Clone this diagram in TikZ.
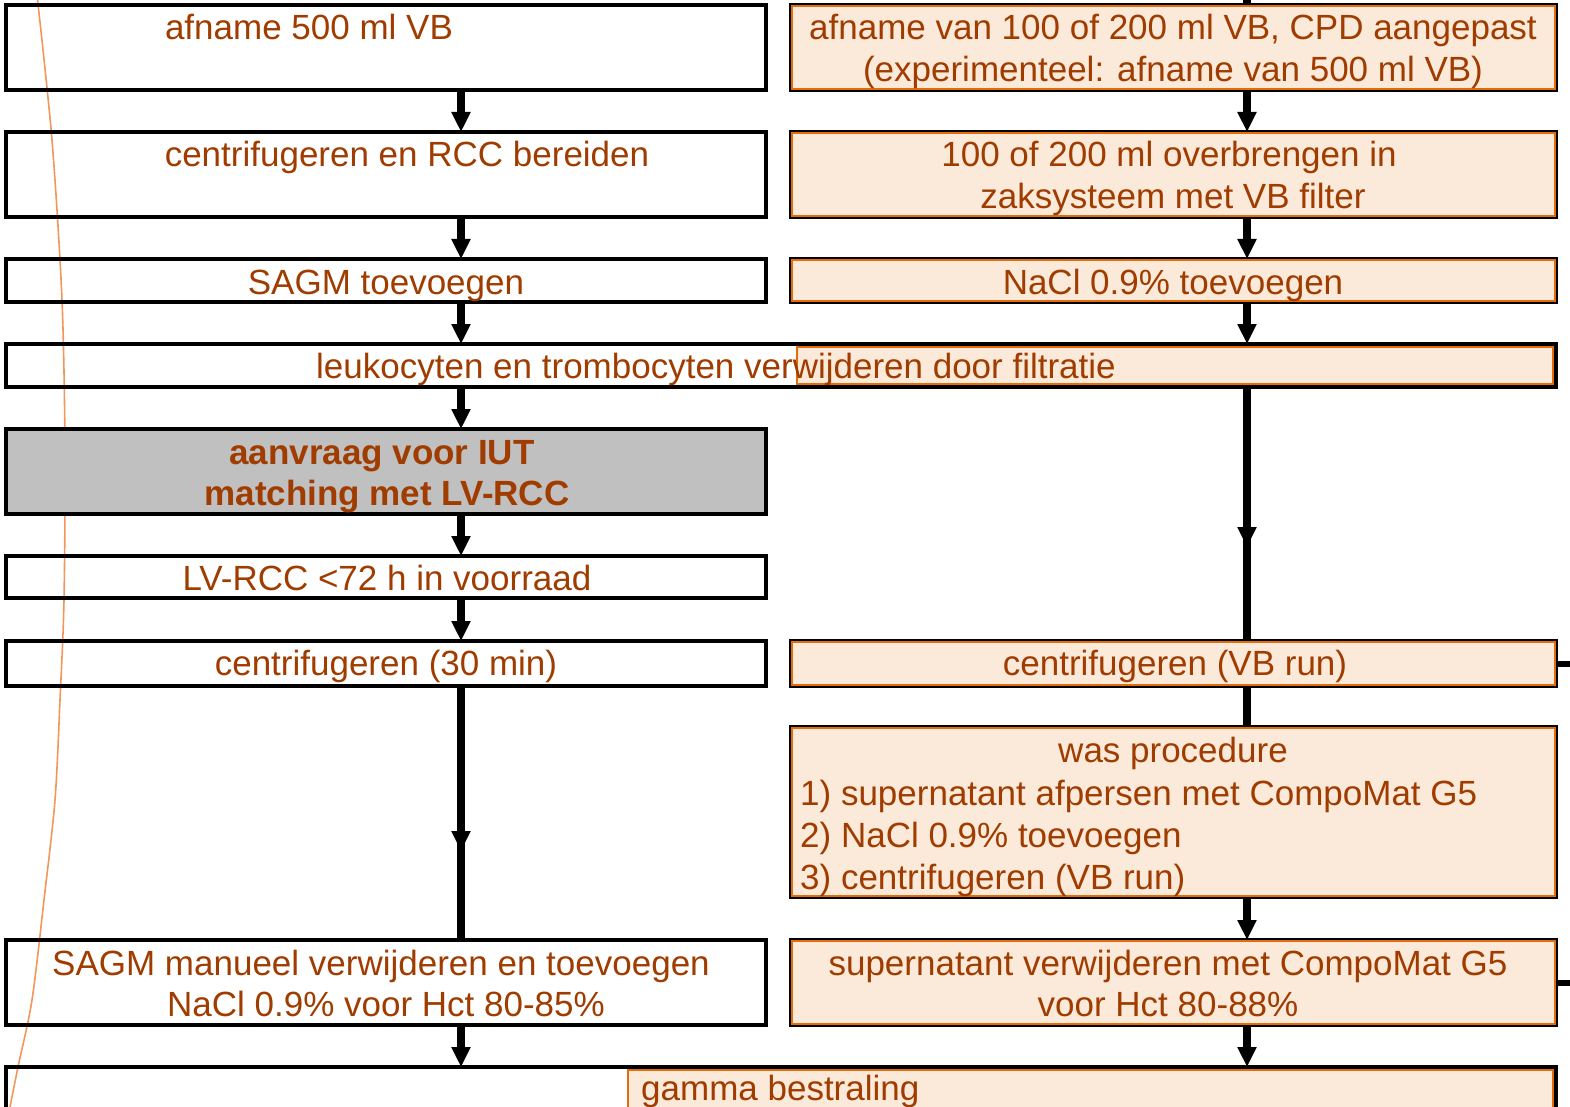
\documentclass[tikz,border=0pt]{standalone}
\usepackage{fontspec}
\setmainfont{Liberation Sans}
\usetikzlibrary{arrows.meta,decorations.markings}
\definecolor{txtc}{RGB}{160,60,0}
\definecolor{peach}{RGB}{251,233,217}
\definecolor{orln}{RGB}{228,108,10}
\definecolor{curvec}{RGB}{243,150,90}
\definecolor{grayf}{RGB}{192,192,192}
\begin{document}
\begin{tikzpicture}[x=1pt,y=-1pt,
 lbox/.style={draw=black, line width=4pt, rectangle, inner sep=0pt, outer sep=0pt},
 rbox/.style={draw=black, line width=4pt, fill=peach, rectangle, inner sep=0pt, outer sep=0pt},
 gbox/.style={lbox, fill=grayf},
 pbox/.style={draw=orln, line width=2pt, fill=peach, rectangle, inner sep=0pt, outer sep=0pt},
 txt/.style={text=txtc, font=\fontsize{35}{42}\selectfont, inner sep=0pt, anchor=base},
 btxt/.style={txt, font=\fontsize{35}{42}\selectfont\bfseries},
 flow/.style={draw=black, line width=8pt, -{Triangle[width=18pt,length=20pt]}},
 flowline/.style={draw=black, line width=8pt},
 midarrow/.style={flowline, decoration={markings, mark=at position #1 with {\arrow{Triangle[width=18pt,length=20pt]}}}, postaction={decorate}},
 stub/.style={draw=black, line width=6pt},
 inset/.style={draw=orln, line width=2pt}
]
\useasboundingbox (0,0) rectangle (1570,1107);
\clip (0,0) rectangle (1570,1107);

% decorative curve
\draw[curvec, line width=1.6pt] plot[smooth] coordinates {(37,-5) (52,140) (62,300) (65,450) (64,600) (60,700) (55,800) (44,900) (32,1000) (18,1067) (9,1112)};

% left column boxes
\node[lbox, minimum width=760pt, minimum height=85pt] (L1) at (386,47.5) {};
\node[lbox, minimum width=760pt, minimum height=85pt] (L2) at (386,174.5) {};
\node[lbox, minimum width=760pt, minimum height=43pt] (L3) at (386,280.5) {};
\node[gbox, minimum width=760pt, minimum height=85pt] (L5) at (386,471.5) {};
\node[lbox, minimum width=760pt, minimum height=42pt] (L6) at (386,577) {};
\node[lbox, minimum width=760pt, minimum height=45pt] (L7) at (386,663.5) {};
\node[lbox, minimum width=760pt, minimum height=85pt] (L9) at (386,982.5) {};

% right column boxes
\node[rbox, minimum width=765pt, minimum height=85pt] (R1) at (1173.5,47.5) {};
\node[rbox, minimum width=765pt, minimum height=85pt] (R2) at (1173.5,174.5) {};
\node[rbox, minimum width=765pt, minimum height=43pt] (R3) at (1173.5,280.5) {};
\node[rbox, minimum width=765pt, minimum height=45pt] (R7) at (1173.5,663.5) {};
\node[rbox, minimum width=765pt, minimum height=170pt] (R8) at (1173.5,812) {};
\node[rbox, minimum width=765pt, minimum height=85pt] (R9) at (1173.5,982.5) {};
\foreach \n in {R1,R2,R3,R7,R8,R9}
  \draw[inset] ([shift={(1pt,-1pt)}]\n.north west) rectangle ([shift={(-1pt,1pt)}]\n.south east);

% wide filtration box
\node[lbox, minimum width=1550pt, minimum height=43pt] (F) at (781,365.5) {};
\node[pbox, minimum width=756pt, minimum height=37pt] (Fp) at (1175,365.5) {};

% bottom wide box
\node[lbox, minimum width=1550pt, minimum height=90pt, anchor=north west] (G) at (6,1067) {};
\node[pbox, minimum width=925pt, minimum height=80pt, anchor=north west] (Gp) at (628,1070) {};

% texts
\node[txt] (t1) at (309,40) {afname 500 ml VB};
\node[txt] (t2) at (407,167) {centrifugeren en RCC bereiden};
\node[txt] (t3) at (386,294) {SAGM toevoegen};
\node[txt] (t4) at (716,378) {leukocyten en trombocyten verwijderen door filtratie};
\node[btxt] (t5a) at (382,464) {aanvraag voor IUT};
\node[btxt] (t5b) at (387,505) {matching met LV-RCC};
\node[txt] (t6) at (387,590) {LV-RCC <72 h in voorraad};
\node[txt] (t7) at (386,675) {centrifugeren (30 min)};
\node[txt] (t9a) at (381,975) {SAGM manueel verwijderen en toevoegen};
\node[txt] (t9b) at (386,1016) {NaCl 0.9\% voor Hct 80-85\%};

\node[txt] (r1a) at (1173,40) {afname van 100 of 200 ml VB, CPD aangepast};
\node[txt] (r1b) at (1173,82) {(experimenteel: afname van 500 ml VB)};
\node[txt] (r2a) at (1169,167) {100 of 200 ml overbrengen in};
\node[txt] (r2b) at (1173,209) {zaksysteem met VB filter};
\node[txt] (r3) at (1173,294) {NaCl 0.9\% toevoegen};
\node[txt] (r7) at (1175,675) {centrifugeren (VB run)};
\node[txt] (r8a) at (1173,762) {was procedure};
\node[txt, anchor=base west] (r8b) at (800,805) {1) supernatant afpersen met CompoMat G5};
\node[txt, anchor=base west] (r8c) at (800,847) {2) NaCl 0.9\% toevoegen};
\node[txt, anchor=base west] (r8d) at (800,889) {3) centrifugeren (VB run)};
\node[txt] (r9a) at (1168,975) {supernatant verwijderen met CompoMat G5};
\node[txt] (r9b) at (1168,1016) {voor Hct 80-88\%};
\node[txt, anchor=base west] (g1) at (641,1100) {gamma bestraling};

% connectors
\coordinate (cl) at (461,0);
\coordinate (cr) at (1247,0);
\coordinate (rtop) at (1247,-5);
\coordinate (s7) at (1575,663.5);
\coordinate (s9) at (1575,982.5);

\draw[flow] (cl |- L1.south) -- (cl |- L2.north);
\draw[flow] (cl |- L2.south) -- (cl |- L3.north);
\draw[flow] (cl |- L3.south) -- (cl |- F.north);
\draw[flow] (cl |- F.south) -- (cl |- L5.north);
\draw[flow] (cl |- L5.south) -- (cl |- L6.north);
\draw[flow] (cl |- L6.south) -- (cl |- L7.north);
\draw[midarrow=0.65] (cl |- L7.south) -- (cl |- L9.north);
\draw[flow] (cl |- L9.south) -- (cl |- G.north);

\draw[flowline] (rtop) -- (cr |- R1.north);
\draw[flow] (cr |- R1.south) -- (cr |- R2.north);
\draw[flow] (cr |- R2.south) -- (cr |- R3.north);
\draw[flow] (cr |- R3.south) -- (cr |- F.north);
\draw[midarrow=0.63] (cr |- F.south) -- (cr |- R7.north);
\draw[flowline] (cr |- R7.south) -- (cr |- R8.north);
\draw[flow] (cr |- R8.south) -- (cr |- R9.north);
\draw[flow] (cr |- R9.south) -- (cr |- G.north);

\draw[stub] (R7.east) -- (s7);
\draw[stub] (R9.east) -- (s9);
\end{tikzpicture}
\end{document}
